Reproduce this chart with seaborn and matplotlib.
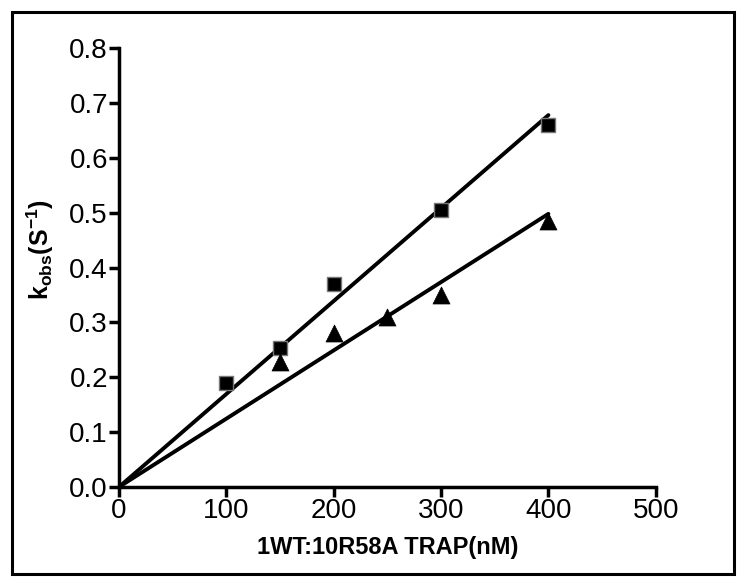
import numpy as np
import pandas as pd
import seaborn as sns
import matplotlib.pyplot as plt
from matplotlib.patches import Rectangle

# data
conc_sq = [100, 150, 200, 300, 400]
kobs_sq = [0.19, 0.253, 0.37, 0.505, 0.66]
conc_tri = [150, 200, 250, 300, 400]
kobs_tri = [0.228, 0.28, 0.31, 0.35, 0.485]
xticks = [0, 100, 200, 300, 400, 500]
yticks = [0.0, 0.1, 0.2, 0.3, 0.4, 0.5, 0.6, 0.7, 0.8]

sns.set_style("ticks")
plt.rcParams['font.family'] = ['Liberation Sans', 'DejaVu Sans']
plt.rcParams['mathtext.fontset'] = 'custom'
plt.rcParams['mathtext.bf'] = 'Liberation Sans:bold'
plt.rcParams['mathtext.rm'] = 'Liberation Sans:bold'
plt.rcParams['text.color'] = 'black'
plt.rcParams['axes.labelcolor'] = 'black'
plt.rcParams['xtick.color'] = 'black'
plt.rcParams['ytick.color'] = 'black'
plt.rcParams['axes.edgecolor'] = 'black'

df_sq = pd.DataFrame({'conc': conc_sq, 'kobs': kobs_sq})
df_tri = pd.DataFrame({'conc': conc_tri, 'kobs': kobs_tri})

# linear fits through the origin
def fit_line(d):
    slope = (d['conc'] * d['kobs']).sum() / (d['conc'] ** 2).sum()
    xs = np.array([0, d['conc'].max()])
    return pd.DataFrame({'conc': xs, 'kobs': slope * xs})

fig = plt.figure(figsize=(7.46, 5.86), dpi=100)
ax = fig.add_axes([0.1595, 0.169, 0.7195, 0.749])

sns.lineplot(data=fit_line(df_sq), x='conc', y='kobs', color='black', lw=2.8, ax=ax)
sns.lineplot(data=fit_line(df_tri), x='conc', y='kobs', color='black', lw=2.8, ax=ax)
sns.scatterplot(data=df_sq, x='conc', y='kobs', marker='s', s=110, color='black',
                edgecolor='#777777', linewidth=1.0, ax=ax, zorder=3)
sns.scatterplot(data=df_tri, x='conc', y='kobs', marker='^', s=150, color='black',
                edgecolor='black', linewidth=0.5, ax=ax, zorder=3)

ax.set_xlim(0, 500)
ax.set_ylim(0, 0.8)
ax.set_xticks(xticks)
ax.set_yticks(yticks)
ax.set_yticklabels([f"{v:.1f}" for v in yticks])
ax.tick_params(labelsize=20, width=2.5, length=7, direction='out', pad=1, colors='black')
sns.despine(ax=ax)
for s in ['left', 'bottom']:
    ax.spines[s].set_linewidth(2.5)
    ax.spines[s].set_color('black')

ax.set_xlabel("1WT:10R58A TRAP(nM)", fontsize=17, fontweight='bold', va='center')
ax.xaxis.set_label_coords(0.5, -0.139)
ax.set_ylabel(r"k$_{\mathbf{obs}}$(S$^{\mathbf{-1}}$)", fontsize=18, fontweight='bold', va='center')
ax.yaxis.set_label_coords(-0.147, 0.54)

fig.patches.append(Rectangle((12 / 746, 1 - 574 / 586), 722 / 746, 562 / 586,
                             transform=fig.transFigure, fill=False, lw=2.2,
                             edgecolor='black', figure=fig))

fig.savefig("out.png", dpi=100)
